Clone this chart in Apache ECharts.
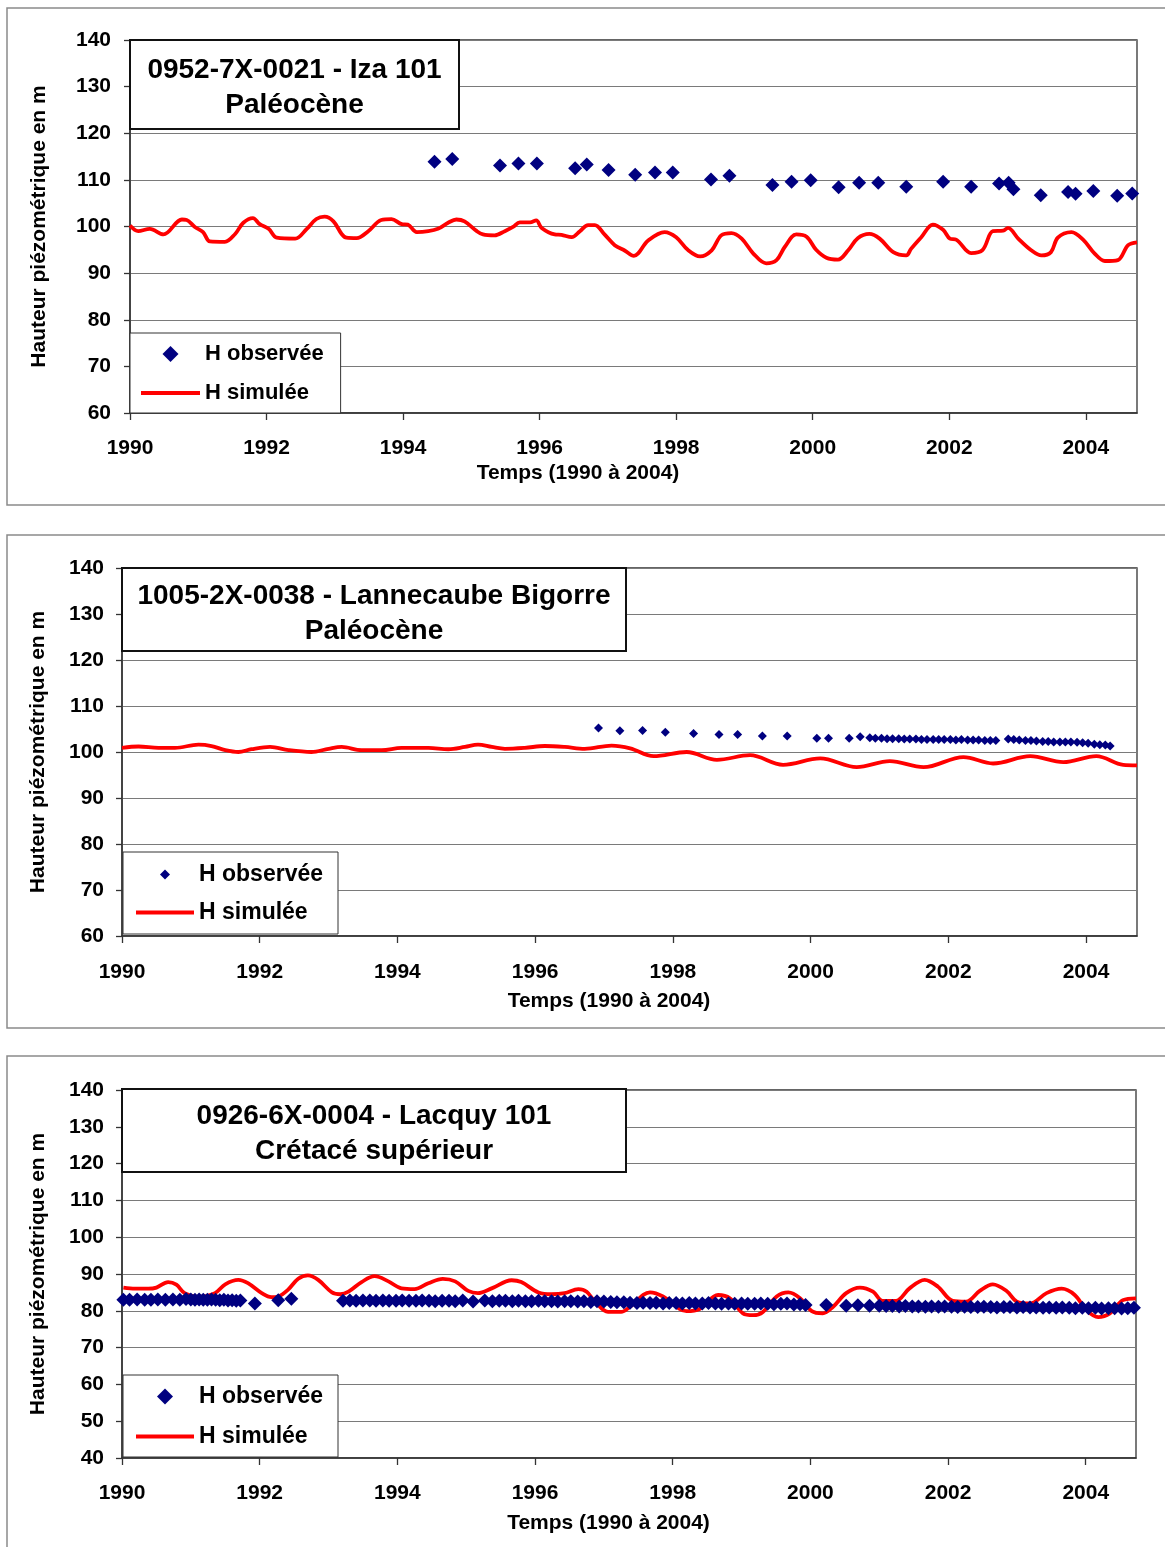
<!DOCTYPE html>
<html>
<head>
<meta charset="utf-8">
<script src="https://cdn.jsdelivr.net/npm/echarts@6/dist/echarts.min.js"></script>
<style>
html,body{margin:0;padding:0;background:#fff;}
#c{width:1165px;height:1547px;}
</style>
</head>
<body>
<div id="c"></div>
<script>
// ---------- DATA ----------
const xTicks = [1990, 1992, 1994, 1996, 1998, 2000, 2002, 2004];
const seriesNames = ['H observée', 'H simulée'];
const xAxisTitle = 'Temps (1990 à 2004)';
const yAxisTitle = 'Hauteur piézométrique en m';
const panelTitles = [
  ['0952-7X-0021 - Iza 101', 'Paléocène'],
  ['1005-2X-0038 - Lannecaube Bigorre', 'Paléocène'],
  ['0926-6X-0004 - Lacquy 101', 'Crétacé supérieur']
];

// Panel 1 : Iza 101
const p1ObsYears = [1994.46, 1994.72, 1995.42, 1995.69, 1995.96, 1996.52, 1996.69, 1997.01, 1997.40, 1997.69, 1997.95, 1998.51, 1998.78, 1999.41, 1999.69, 1999.97, 2000.38, 2000.68, 2000.96, 2001.37, 2001.91, 2002.32, 2002.73, 2002.87, 2002.94, 2003.34, 2003.74, 2003.85, 2004.11, 2004.46, 2004.68];
const p1ObsVals = [113.9, 114.5, 113.1, 113.5, 113.5, 112.5, 113.3, 112.1, 111.1, 111.6, 111.6, 110.1, 110.9, 108.9, 109.6, 109.9, 108.4, 109.4, 109.4, 108.5, 109.6, 108.5, 109.2, 109.4, 108.0, 106.7, 107.4, 107.0, 107.6, 106.6, 107.1];
const p1SimYears = [1990.0, 1990.12, 1990.29, 1990.49, 1990.76, 1990.83, 1990.95, 1991.07, 1991.17, 1991.39, 1991.54, 1991.66, 1991.80, 1991.90, 1992.03, 1992.15, 1992.42, 1992.59, 1992.73, 1992.85, 1992.98, 1993.10, 1993.17, 1993.32, 1993.49, 1993.68, 1993.83, 1993.98, 1994.07, 1994.20, 1994.37, 1994.51, 1994.66, 1994.78, 1994.90, 1995.08, 1995.17, 1995.34, 1995.49, 1995.61, 1995.71, 1995.86, 1995.95, 1996.03, 1996.22, 1996.32, 1996.47, 1996.59, 1996.71, 1996.81, 1996.95, 1997.10, 1997.25, 1997.38, 1997.59, 1997.83, 1998.00, 1998.17, 1998.35, 1998.52, 1998.66, 1998.81, 1998.96, 1999.13, 1999.32, 1999.47, 1999.59, 1999.76, 1999.91, 2000.05, 2000.20, 2000.37, 2000.52, 2000.66, 2000.83, 2000.98, 2001.18, 2001.37, 2001.44, 2001.59, 2001.76, 2001.91, 2002.01, 2002.10, 2002.32, 2002.49, 2002.64, 2002.79, 2002.86, 2003.01, 2003.20, 2003.35, 2003.49, 2003.59, 2003.79, 2003.96, 2004.13, 2004.28, 2004.47, 2004.62, 2004.75];
const p1SimVals = [100.2, 99.0, 99.5, 98.3, 101.5, 101.4, 99.9, 98.8, 96.8, 96.7, 98.4, 100.8, 101.8, 100.5, 99.5, 97.6, 97.4, 99.5, 101.6, 102.1, 101.1, 98.4, 97.6, 97.5, 99.0, 101.4, 101.6, 100.5, 100.4, 98.8, 99.0, 99.5, 100.8, 101.5, 101.1, 99.0, 98.3, 98.1, 99.0, 99.9, 100.9, 100.9, 101.3, 99.7, 98.3, 98.2, 97.7, 99.0, 100.3, 100.3, 98.3, 96.0, 94.8, 93.7, 97.0, 98.8, 97.7, 95.0, 93.6, 94.9, 98.1, 98.6, 97.4, 94.2, 92.1, 92.8, 95.6, 98.3, 97.8, 95.0, 93.3, 92.9, 94.9, 97.5, 98.4, 97.4, 94.5, 93.8, 95.2, 97.7, 100.4, 99.3, 97.4, 97.2, 94.3, 95.0, 99.0, 99.1, 99.7, 97.4, 94.9, 93.8, 94.5, 97.6, 98.8, 97.2, 94.2, 92.6, 92.8, 96.0, 96.6];

// Panel 2 : Lannecaube Bigorre
const p2ObsYears = [1996.92, 1997.23, 1997.56, 1997.89, 1998.30, 1998.67, 1998.94, 1999.30, 1999.66, 2000.09, 2000.26, 2000.56, 2000.72, 2000.86, 2000.94, 2001.03, 2001.11, 2001.19, 2001.28, 2001.36, 2001.44, 2001.53, 2001.61, 2001.69, 2001.78, 2001.86, 2001.94, 2002.03, 2002.11, 2002.19, 2002.28, 2002.36, 2002.44, 2002.53, 2002.61, 2002.69, 2002.87, 2002.95, 2003.03, 2003.12, 2003.20, 2003.28, 2003.37, 2003.45, 2003.53, 2003.62, 2003.70, 2003.78, 2003.87, 2003.95, 2004.03, 2004.12, 2004.20, 2004.28, 2004.35];
const p2ObsVals = [105.2, 104.6, 104.7, 104.3, 104.0, 103.8, 103.8, 103.5, 103.5, 103.0, 103.0, 103.0, 103.3, 103.1, 103.0, 103.0, 102.9, 102.9, 102.9, 102.8, 102.8, 102.8, 102.7, 102.7, 102.7, 102.7, 102.7, 102.7, 102.6, 102.7, 102.6, 102.6, 102.6, 102.5, 102.5, 102.5, 102.8, 102.7, 102.6, 102.5, 102.5, 102.4, 102.3, 102.3, 102.2, 102.2, 102.2, 102.2, 102.1, 102.0, 101.9, 101.7, 101.6, 101.5, 101.3];
const p2SimYears = [1990.0, 1990.24, 1990.53, 1990.77, 1991.11, 1991.30, 1991.50, 1991.69, 1991.88, 1992.15, 1992.42, 1992.75, 1993.0, 1993.19, 1993.48, 1993.77, 1994.06, 1994.45, 1994.74, 1994.98, 1995.17, 1995.37, 1995.56, 1995.85, 1996.14, 1996.43, 1996.72, 1997.11, 1997.38, 1997.72, 1998.20, 1998.64, 1999.12, 1999.60, 2000.14, 2000.67, 2001.15, 2001.64, 2002.22, 2002.65, 2003.19, 2003.67, 2004.15, 2004.54, 2004.74];
const p2SimVals = [100.9, 101.2, 100.9, 100.9, 101.6, 101.3, 100.4, 100.0, 100.6, 101.1, 100.4, 100.0, 100.7, 101.1, 100.4, 100.4, 100.9, 100.9, 100.6, 101.1, 101.6, 101.1, 100.7, 100.9, 101.3, 101.1, 100.7, 101.4, 100.8, 99.1, 100.0, 98.3, 99.3, 97.2, 98.6, 96.7, 98.0, 96.7, 98.9, 97.5, 99.1, 97.8, 99.1, 97.2, 97.1];

// Panel 3 : Lacquy 101
const p3ObsYears = [1990.02, 1990.11, 1990.22, 1990.33, 1990.42, 1990.52, 1990.63, 1990.74, 1990.84, 1990.93, 1991.00, 1991.06, 1991.12, 1991.18, 1991.24, 1991.30, 1991.36, 1991.42, 1991.48, 1991.54, 1991.60, 1991.66, 1991.72,
  1991.93, 1992.27, 1992.46,
  1993.21, 1993.31, 1993.40, 1993.50, 1993.60, 1993.69, 1993.79, 1993.88, 1993.98,
  1994.07, 1994.17, 1994.27, 1994.36, 1994.46, 1994.55, 1994.65, 1994.75, 1994.84, 1994.95,
  1995.10, 1995.27, 1995.38, 1995.48, 1995.57, 1995.67, 1995.76, 1995.86, 1995.95,
  1996.05, 1996.14, 1996.24, 1996.33, 1996.43, 1996.52, 1996.62, 1996.71, 1996.81, 1996.90,
  1997.00, 1997.10, 1997.19, 1997.29, 1997.38, 1997.48, 1997.57, 1997.67, 1997.76, 1997.86, 1997.95,
  1998.05, 1998.14, 1998.24, 1998.33, 1998.43, 1998.52, 1998.62, 1998.71, 1998.81, 1998.90,
  1999.00, 1999.09, 1999.19, 1999.28, 1999.38, 1999.47, 1999.57, 1999.66, 1999.76, 1999.85, 1999.93,
  2000.23, 2000.52, 2000.69, 2000.86,
  2001.00, 2001.10, 2001.19, 2001.29, 2001.38, 2001.48, 2001.57, 2001.67, 2001.76, 2001.86, 2001.95,
  2002.05, 2002.14, 2002.24, 2002.33, 2002.43, 2002.52, 2002.62, 2002.71, 2002.81, 2002.90,
  2003.00, 2003.09, 2003.19, 2003.28, 2003.38, 2003.47, 2003.57, 2003.66, 2003.76, 2003.85, 2003.95,
  2004.04, 2004.14, 2004.23, 2004.33, 2004.42, 2004.52, 2004.61, 2004.70];
const p3ObsVals = [83.0, 83.0, 83.1, 83.0, 83.0, 83.1, 83.0, 83.1, 83.0, 83.2, 83.1, 83.0, 83.1, 83.0, 83.0, 83.1, 83.0, 82.9, 83.0, 82.8, 82.9, 82.7, 82.8,
  82.0, 82.9, 83.3,
  82.7, 82.8, 82.7, 82.8, 82.8, 82.7, 82.8, 82.7, 82.7,
  82.8, 82.7, 82.7, 82.8, 82.7, 82.6, 82.7, 82.7, 82.6, 82.8,
  82.5, 82.8, 82.6, 82.7, 82.7, 82.6, 82.7, 82.6, 82.6,
  82.7, 82.6, 82.6, 82.5, 82.6, 82.6, 82.5, 82.6, 82.4, 82.6,
  82.5, 82.4, 82.3, 82.3, 82.2, 82.1, 82.2, 82.1, 82.2, 82.0, 82.1,
  82.1, 82.0, 82.1, 82.0, 82.0, 82.1, 82.0, 81.9, 82.0, 81.9,
  82.0, 81.9, 81.9, 82.0, 81.9, 81.8, 81.9, 82.0, 81.7, 81.8, 81.6,
  81.6, 81.4, 81.5, 81.4,
  81.4, 81.3, 81.3, 81.2, 81.3, 81.2, 81.2, 81.1, 81.2, 81.1, 81.2,
  81.1, 81.0, 81.1, 81.0, 81.0, 81.1, 81.0, 80.9, 81.0, 81.0,
  80.9, 81.0, 80.9, 80.9, 80.8, 80.9, 80.8, 80.9, 80.8, 80.7, 80.8,
  80.7, 80.8, 80.6, 80.7, 80.7, 80.6, 80.7, 80.8];
const p3SimYears = [1990.02, 1990.19, 1990.38, 1990.50, 1990.67, 1990.79, 1990.91, 1991.10, 1991.35, 1991.50, 1991.69, 1991.83, 1992.03, 1992.17, 1992.27, 1992.41, 1992.56, 1992.70, 1992.85, 1993.05, 1993.17, 1993.29, 1993.48, 1993.67, 1993.87, 1994.06, 1994.25, 1994.45, 1994.66, 1994.84, 1995.03, 1995.17, 1995.37, 1995.66, 1995.80, 1996.05, 1996.24, 1996.43, 1996.63, 1996.75, 1996.87, 1997.06, 1997.25, 1997.38, 1997.67, 1997.86, 1998.20, 1998.39, 1998.66, 1998.83, 1999.02, 1999.17, 1999.31, 1999.51, 1999.68, 1999.85, 2000.02, 2000.18, 2000.33, 2000.52, 2000.72, 2000.91, 2001.05, 2001.24, 2001.44, 2001.66, 2001.85, 2002.07, 2002.26, 2002.46, 2002.65, 2002.85, 2003.00, 2003.19, 2003.43, 2003.65, 2003.84, 2004.01, 2004.18, 2004.35, 2004.54, 2004.73];
const p3SimVals = [86.3, 86.0, 86.0, 86.3, 87.8, 87.1, 84.8, 83.8, 84.8, 87.2, 88.4, 87.5, 84.8, 83.7, 83.9, 85.7, 88.7, 89.6, 88.4, 85.0, 84.5, 85.2, 87.8, 89.4, 88.0, 86.1, 85.9, 87.5, 88.7, 88.0, 85.4, 84.8, 86.1, 88.3, 87.8, 85.0, 84.5, 84.8, 85.9, 85.2, 82.5, 79.7, 79.7, 81.1, 85.0, 83.9, 79.9, 80.5, 84.3, 83.4, 79.3, 78.8, 79.7, 83.9, 85.0, 83.4, 79.9, 79.3, 81.1, 84.8, 86.3, 85.2, 82.7, 82.7, 86.1, 88.4, 86.6, 82.7, 82.5, 85.4, 87.2, 85.4, 82.5, 82.0, 84.8, 86.0, 84.3, 80.2, 78.3, 79.3, 82.9, 83.4];

// ---------- LAYOUT / STYLE ----------
const FONT = "'Liberation Sans', Arial, Helvetica, sans-serif";
const NAVY = '#000080';
const RED = '#FF0000';
const ICON_DIAMOND = 'path://M7,0 L14,7 L7,14 L0,7 Z';
const ICON_LINE = 'path://M0,0 L60,0 L60,4 L0,4 Z';

const panels = [
  { grid: {left: 130, top: 40, width: 1007, height: 373}, xMax: 2004.75, yMin: 60,
    obs: [p1ObsYears, p1ObsVals], sim: [p1SimYears, p1SimVals], symSize: 14,
    labelMargin: 25, xNameGap: 50, xNamePad: 111, yNameGap: 80, yLabelMargin: 19,
    legend: {left: 130, top: 333, padding: [10, 17, 9, 11], itemWidth: 59, itemHeight: 16, itemGap: 17, fontSize: 22},
    title: {x: 130, y: 40, w: 329, h: 89, cy: 87.5, lh: 35, fs: 28},
    frame: {x: 7, y: 8, w: 1170, h: 497} },
  { grid: {left: 122, top: 568, width: 1015, height: 368}, xMax: 2004.74, yMin: 60,
    obs: [p2ObsYears, p2ObsVals], sim: [p2SimYears, p2SimVals], symSize: 9,
    labelMargin: 26, xNameGap: 55, xNamePad: 41, yNameGap: 73, yLabelMargin: 18,
    legend: {left: 123, top: 852, padding: [11, 15, 10, 13], itemWidth: 58, itemHeight: 10, itemGap: 15, fontSize: 23},
    title: {x: 122, y: 568, w: 504, h: 83, cy: 613.3, lh: 35, fs: 28},
    frame: {x: 7, y: 535, w: 1170, h: 493} },
  { grid: {left: 122, top: 1090, width: 1014, height: 368}, xMax: 2004.73, yMin: 40,
    obs: [p3ObsYears, p3ObsVals], sim: [p3SimYears, p3SimVals], symSize: 14,
    labelMargin: 25, xNameGap: 55, xNamePad: 41, yNameGap: 73, yLabelMargin: 18,
    legend: {left: 123, top: 1375, padding: [10, 15, 9, 13], itemWidth: 58, itemHeight: 16, itemGap: 17, fontSize: 23},
    title: {x: 122, y: 1089, w: 504, h: 83, cy: 1133.5, lh: 35, fs: 28},
    frame: {x: 7, y: 1056, w: 1170, h: 520} }
];

const zip = (xs, ys) => xs.map((x, i) => [x, ys[i]]);
const axisColor = '#333';
const txt = {color: '#000', fontFamily: FONT, fontWeight: 'bold'};

const option = {
  backgroundColor: '#fff',
  animation: false,
  grid: [], xAxis: [], yAxis: [], series: [], legend: [], graphic: []
};

panels.forEach((p, i) => {
  option.grid.push(Object.assign({show: true, borderColor: axisColor, borderWidth: 1.3, backgroundColor: 'transparent', containLabel: false}, p.grid));
  option.xAxis.push({
    type: 'value', gridIndex: i, min: 1990, max: p.xMax,
    axisLine: {show: true, onZero: false, lineStyle: {color: axisColor, width: 1.5}},
    axisTick: {show: true, length: 7, customValues: xTicks, lineStyle: {color: axisColor, width: 1.3}},
    axisLabel: Object.assign({customValues: xTicks, fontSize: 21, margin: p.labelMargin, formatter: v => String(v)}, txt),
    splitLine: {show: false},
    name: xAxisTitle, nameLocation: 'middle', nameGap: p.xNameGap,
    nameTextStyle: Object.assign({fontSize: 21, padding: [0, p.xNamePad, 0, 0]}, txt)
  });
  option.yAxis.push({
    type: 'value', gridIndex: i, min: p.yMin, max: 140, interval: 10,
    axisLine: {show: true, lineStyle: {color: axisColor, width: 1.5}},
    axisTick: {show: true, length: 6, lineStyle: {color: axisColor, width: 1.3}},
    axisLabel: Object.assign({fontSize: 21, margin: p.yLabelMargin}, txt),
    splitLine: {show: true, lineStyle: {color: '#7a7a7a', width: 1.2}},
    name: yAxisTitle, nameLocation: 'middle', nameGap: p.yNameGap,
    nameTextStyle: Object.assign({fontSize: 21}, txt)
  });
  option.series.push({
    name: seriesNames[1], type: 'line', xAxisIndex: i, yAxisIndex: i,
    data: zip(p.sim[0], p.sim[1]), showSymbol: false, symbol: 'none', smooth: 0.35,
    lineStyle: {color: RED, width: 3.8}, itemStyle: {color: RED}, clip: true, z: 2
  });
  option.series.push({
    name: seriesNames[0], type: 'scatter', xAxisIndex: i, yAxisIndex: i,
    data: zip(p.obs[0], p.obs[1]), symbol: 'diamond', symbolSize: p.symSize,
    itemStyle: {color: NAVY, opacity: 1}, z: 3
  });
  const L = p.legend;
  option.legend.push({
    show: true, orient: 'vertical', left: L.left, top: L.top, padding: L.padding,
    itemWidth: L.itemWidth, itemHeight: L.itemHeight, itemGap: L.itemGap,
    backgroundColor: '#fff', borderColor: '#333', borderWidth: 1, selectedMode: false,
    symbolKeepAspect: true,
    textStyle: Object.assign({fontSize: L.fontSize}, txt),
    data: [
      {name: seriesNames[0], icon: ICON_DIAMOND, itemStyle: {color: NAVY, borderWidth: 0}},
      {name: seriesNames[1], icon: ICON_LINE, itemStyle: {color: RED, borderWidth: 0}}
    ], z: 10
  });
  const F = p.frame;
  option.graphic.push({type: 'rect', z: -10, silent: true,
    shape: {x: F.x, y: F.y, width: F.w, height: F.h},
    style: {fill: 'none', stroke: '#8a8a8a', lineWidth: 1.5}});
  const T = p.title;
  option.graphic.push({type: 'rect', z: 100, silent: true,
    shape: {x: T.x, y: T.y, width: T.w, height: T.h},
    style: {fill: '#fff', stroke: '#111', lineWidth: 2}});
  option.graphic.push({type: 'text', z: 101, silent: true,
    x: T.x + T.w / 2, y: T.cy,
    style: {text: panelTitles[i].join('\n'), fill: '#000', font: 'bold ' + T.fs + 'px ' + FONT,
      fontSize: T.fs, fontWeight: 'bold', fontFamily: FONT, lineHeight: T.lh,
      align: 'center', verticalAlign: 'middle', textAlign: 'center', textVerticalAlign: 'middle'}});
});

const chart = echarts.init(document.getElementById('c'), null, {renderer: 'canvas', width: 1165, height: 1547});
chart.setOption(option);
</script>
</body>
</html>
